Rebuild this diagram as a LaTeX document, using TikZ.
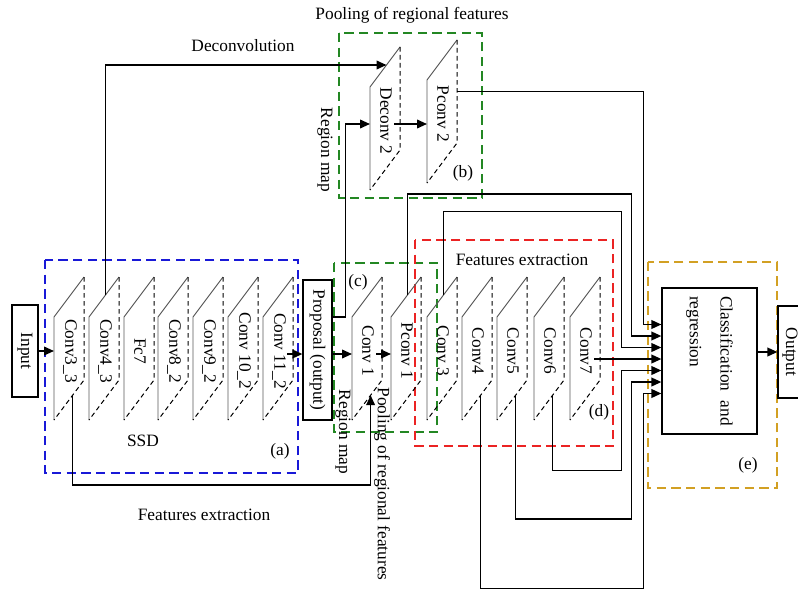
\documentclass[tikz,border=0pt]{standalone}
\usepackage{fontspec}
\setmainfont{Liberation Serif}
\usepackage{graphicx}
\usepackage{xcolor}
\usetikzlibrary{arrows.meta,calc}
\definecolor{ssdblue}{RGB}{25,25,215}
\definecolor{poolgreen}{RGB}{35,135,35}
\definecolor{featred}{RGB}{235,35,35}
\definecolor{clsgold}{RGB}{210,160,35}
\tikzset{
  blk/.style      = {draw, line width=0.9pt, inner sep=0pt, font=\fontsize{13}{15}\selectfont},
  lbl/.style      = {inner sep=1pt, font=\fontsize{13}{15}\selectfont},
  maplabel/.style = {rotate=-90, inner sep=0pt, font=\fontsize{13}{15}\selectfont},
  mapedge/.style  = {draw=black!65, line width=0.7pt},
  mapdash/.style  = {draw=black, line width=0.75pt, dash pattern=on 3.5pt off 2.5pt},
  grpbox/.style   = {line width=1.7pt, dash pattern=on 7pt off 4pt},
  flow/.style     = {-{Triangle[length=7.5pt,width=6.5pt]}, line width=1.25pt},
}
% one slanted feature map: name, left x, top of left edge, label
\newcommand{\featmap}[4]{%
  \coordinate (#1-tl) at (#2,#3);
  \coordinate (#1-tr) at (#2+30,#3-40);
  \coordinate (#1-br) at (#2+30,#3+63);
  \coordinate (#1-bl) at (#2,#3+103);
  \draw[mapedge] (#1-bl) -- (#1-tl) -- (#1-tr);
  \draw[mapdash] (#1-tr) -- (#1-br) -- (#1-bl);
  \node[maplabel] (#1) at (#2+16,#3+34) {#4};
  \coordinate (#1-in) at (#2,#3+37);
  \coordinate (#1-out) at (#2+24,#3+37);
  \coordinate (#1-top) at ($(#1-tl)!0.55!(#1-tr)$);
  \coordinate (#1-bot) at ($(#1-bl)!0.62!(#1-br)$);
  \coordinate (#1-r) at ($(#1-tr)!0.5!(#1-br)$);
}

\begin{document}
\begin{tikzpicture}[x=0.75pt, y=-0.75pt]
\useasboundingbox (0,0) rectangle (798,592);
% group frames
\draw[grpbox, ssdblue]   (45,260) rectangle (298,473);
\draw[grpbox, poolgreen] (339,33) rectangle (482,198);
\draw[grpbox, poolgreen] (334,263) rectangle (437,432);
\draw[grpbox, featred]   (415,240) rectangle (613,446);
\draw[grpbox, clsgold]   (648,262) rectangle (777,488);

% feature maps
\foreach \n/\x/\t in {c33/54/Conv3\_3, c43/89/Conv4\_3, fc7/124/Fc7, c82/158/Conv8\_2,
    c92/193/Conv9\_2, c102/228/Conv 10\_2, c112/263/Conv 11\_2}
  {\featmap{\n}{\x}{317}{\t}}
\foreach \n/\x/\t in {c1/352/Conv 1, pc1/391/Pconv 1, c3/427/Conv 3, c4/462/Conv4,
    c5/497/Conv5, c6/534/Conv6, c7/570/Conv7}
  {\featmap{\n}{\x}{317}{\t}}
\featmap{dc2}{370}{87}{Deconv 2}
\featmap{pc2}{427}{80}{Pconv 2}

% boxes
\node[blk, minimum width=19.5pt, minimum height=69pt] (input) at (25,351) {\rotatebox{-90}{Input}};
\node[blk, minimum width=21.75pt, minimum height=105pt] (proposal) at (317.5,350) {\rotatebox{-90}{Proposal (output)}};
\node[blk, minimum width=71.25pt, minimum height=109.5pt] (classif) at (709.5,361)
  {\rotatebox{-90}{\parbox{97.5pt}{\fontsize{13}{23}\selectfont Classification\hfill and\\regression}}};
\node[blk, minimum width=18pt, minimum height=69pt] (output) at (790,352) {\rotatebox{-90}{Output}};
\foreach \i in {1,...,7}
  \coordinate (in\i) at ($(classif.west)+(0,{(\i-4)*11.5-2})$);

% labels
\node[lbl] (deconvtxt) at (243,46) {Deconvolution};
\node[lbl] (pooltxt) at (412,15) {Pooling of regional features};
\node[lbl, rotate=-90] (rmaptxt) at (325,150) {Region map};
\node[lbl] (btxt) at (463,173) {(b)};
\node[lbl] (ctxt) at (358,282) {(c)};
\node[lbl] (feattxt) at (522,260) {Features extraction};
\node[lbl] (dtxt) at (599,412) {(d)};
\node[lbl] (ssdtxt) at (143,441) {SSD};
\node[lbl] (atxt) at (280,451) {(a)};
\node[lbl] (feattxt2) at (204,515) {Features extraction};
\node[lbl, rotate=-90] (rmaptxt2) at (343,432) {Region map};
\node[lbl, rotate=-90] (pooltxt2) at (382,484) {Pooling of regional features};
\node[lbl] (etxt) at (748,465) {(e)};

% connectors
\draw[flow] (input) -- (input -| c33-tl);
\draw[flow] (c112-out) -- (c112-out -| proposal.west);
\draw[flow] (c1-in -| proposal.east) -- (c1-in);
\draw[flow] (c1-out) -- (c1-out -| pc1-tl);
\draw[flow] (proposal.east |- c1-tl) -- ++(13,0) |- (dc2-in);
\draw[flow] (dc2-out) -- (dc2-out -| pc2-tl);
\draw[flow] (c43-top) |- (dc2-top);
\draw[flow] (c33-bot) -- ++(0,90) -| (c1-bot);
\draw[flow] (pc2-r) -| ($(in1)+(-18,0)$) -- (in1);
\draw[flow] (pc1-top) |- ($(in2)+(-30,-142)$) |- (in2);
\draw[flow] (c3-top) |- ($(in3)+(-40,-136)$) |- (in3);
\draw[flow] (in4 -| c7-out) -- (in4);
\draw[flow] (c6-bot) |- ($(in5)+(-40,100)$) |- (in5);
\draw[flow] (c5-bot) |- ($(in6)+(-30,137)$) |- (in6);
\draw[flow] (c4-bot) |- ($(in7)+(-18,195)$) |- (in7);
\draw[flow] (classif.east |- output) -- (output);
\end{tikzpicture}
\end{document}
